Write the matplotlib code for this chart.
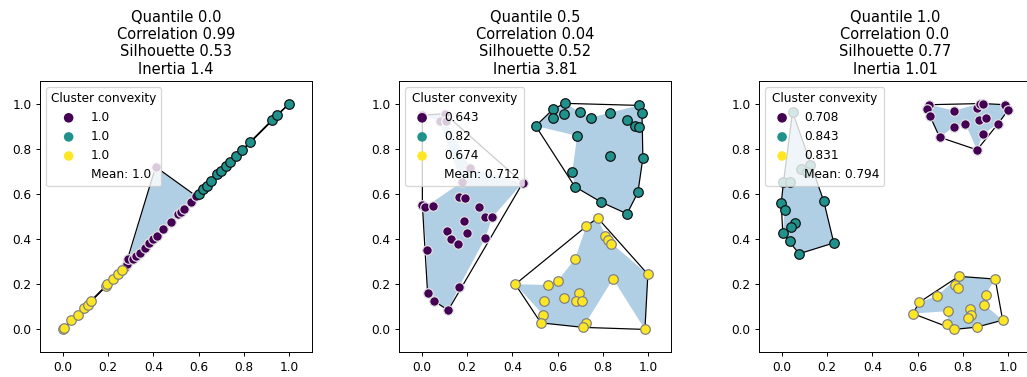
#!/usr/bin/env python3
"""
tres cuantiles: puntos por cluster, envolvente convexa y relleno concavo
"""

import numpy as np
import matplotlib.pyplot as plt

# metricas por panel
quantiles   = [0.0, 0.5, 1.0]
correlation = [0.99, 0.04, 0.0]
silhouette  = [0.53, 0.52, 0.77]
inertia     = [1.4, 3.81, 1.01]
convexity   = [[1.0, 1.0, 1.0], [0.643, 0.82, 0.674], [0.708, 0.843, 0.831]]
mean_conv   = [1.0, 0.712, 0.794]

# panel 1 (cuantil 0.0)
p1_c0 = [(0.276, 0.278), (0.284, 0.291), (0.29, 0.31), (0.31, 0.31), (0.325, 0.326),
         (0.34, 0.338), (0.362, 0.362), (0.38, 0.381), (0.398, 0.399), (0.414, 0.412),
         (0.443, 0.443), (0.476, 0.475), (0.508, 0.512), (0.522, 0.522), (0.535, 0.535),
         (0.564, 0.563), (0.59, 0.59), (0.41, 0.72)]
p1_c1 = [(0.6, 0.6), (0.618, 0.62), (0.635, 0.637), (0.656, 0.659), (0.683, 0.686),
         (0.7, 0.702), (0.72, 0.722), (0.74, 0.742), (0.763, 0.766), (0.793, 0.796),
         (0.826, 0.828), (0.924, 0.928), (0.944, 0.948), (1.0, 1.0)]
p1_c2 = [(0.0, 0.0), (0.008, 0.007), (0.038, 0.04), (0.066, 0.066), (0.094, 0.094),
         (0.111, 0.11), (0.127, 0.128), (0.19, 0.191), (0.197, 0.199), (0.22, 0.222),
         (0.243, 0.244), (0.262, 0.262)]
p1_f0 = [(0.29, 0.31), (0.41, 0.72), (0.59, 0.59), (0.564, 0.563), (0.476, 0.475),
         (0.414, 0.412), (0.34, 0.338), (0.31, 0.31)]
p1_f1 = [(0.6, 0.6), (1.0, 1.0)]
p1_f2 = [(0.0, 0.0), (0.262, 0.262)]

# panel 2 (cuantil 0.5)
p2_c0 = [(0.003, 0.949), (0.102, 0.955), (0.079, 0.922), (0.106, 0.924), (0.214, 0.715),
         (0.446, 0.649), (0.176, 0.652), (0.003, 0.553), (0.015, 0.541), (0.051, 0.548),
         (0.164, 0.585), (0.193, 0.582), (0.253, 0.541), (0.281, 0.497), (0.312, 0.497),
         (0.186, 0.479), (0.11, 0.438), (0.2, 0.426), (0.129, 0.399), (0.161, 0.379),
         (0.281, 0.406), (0.022, 0.35), (0.165, 0.188), (0.026, 0.163), (0.054, 0.126),
         (0.117, 0.085)]
p2_c1 = [(0.503, 0.901), (0.58, 0.975), (0.58, 0.938), (0.631, 1.001), (0.628, 0.955),
         (0.697, 0.964), (0.745, 0.938), (0.833, 0.96), (0.957, 0.992), (0.972, 0.96),
         (0.905, 0.926), (0.943, 0.901), (0.957, 0.897), (0.686, 0.857), (0.83, 0.766),
         (0.976, 0.759), (0.664, 0.695), (0.676, 0.632), (0.954, 0.607), (0.793, 0.563),
         (0.906, 0.512)]
p2_c2 = [(0.776, 0.494), (0.726, 0.456), (0.81, 0.414), (0.82, 0.396), (0.837, 0.379),
         (0.677, 0.313), (0.998, 0.244), (0.844, 0.224), (0.413, 0.2), (0.6, 0.215),
         (0.557, 0.197), (0.696, 0.161), (0.629, 0.138), (0.682, 0.127), (0.709, 0.124),
         (0.541, 0.126), (0.535, 0.066), (0.526, 0.029), (0.724, 0.029), (0.713, 0.009),
         (0.985, 0.0)]
p2_f0 = [(0.003, 0.949), (0.102, 0.955), (0.106, 0.924), (0.214, 0.715), (0.446, 0.649),
         (0.312, 0.497), (0.281, 0.406), (0.165, 0.188), (0.117, 0.085), (0.054, 0.126),
         (0.026, 0.163), (0.022, 0.35), (0.003, 0.553), (0.015, 0.541), (0.176, 0.652),
         (0.079, 0.922)]
p2_f1 = [(0.503, 0.901), (0.58, 0.975), (0.631, 1.001), (0.697, 0.964), (0.745, 0.938),
         (0.833, 0.96), (0.957, 0.992), (0.972, 0.96), (0.976, 0.759), (0.954, 0.607),
         (0.906, 0.512), (0.793, 0.563), (0.676, 0.632), (0.664, 0.695), (0.686, 0.857)]
p2_f2 = [(0.413, 0.2), (0.557, 0.197), (0.6, 0.215), (0.677, 0.313), (0.726, 0.456),
         (0.776, 0.494), (0.82, 0.396), (0.998, 0.244), (0.985, 0.0), (0.844, 0.224),
         (0.724, 0.029), (0.713, 0.009), (0.526, 0.029), (0.535, 0.066)]

# panel 3 (cuantil 1.0)
p3_c0 = [(0.651, 0.995), (0.642, 0.975), (0.655, 0.943), (0.76, 0.969), (0.862, 0.982),
         (0.874, 1.0), (0.89, 1.0), (0.987, 0.995), (0.999, 0.971), (0.869, 0.929),
         (0.902, 0.934), (0.811, 0.91), (0.76, 0.897), (0.955, 0.911), (0.888, 0.865),
         (0.697, 0.851), (0.862, 0.795)]
p3_c1 = [(0.048, 0.963), (0.084, 0.712), (0.124, 0.73), (0.113, 0.695), (0.008, 0.651),
         (0.038, 0.651), (0.186, 0.567), (-0.002, 0.56), (0.013, 0.529), (0.06, 0.472),
         (0.042, 0.453), (0.005, 0.425), (0.035, 0.393), (0.23, 0.383), (0.077, 0.335)]
p3_c2 = [(0.781, 0.235), (0.942, 0.223), (0.765, 0.197), (0.78, 0.183), (0.686, 0.148),
         (0.607, 0.12), (0.9, 0.154), (0.894, 0.11), (0.83, 0.09), (0.736, 0.081),
         (0.836, 0.063), (0.822, 0.05), (0.579, 0.07), (0.975, 0.041), (0.73, 0.022),
         (0.86, 0.01), (0.761, 0.0)]
p3_f0 = [(0.651, 0.995), (0.76, 0.969), (0.874, 1.0), (0.987, 0.995), (0.999, 0.971),
         (0.955, 0.911), (0.888, 0.865), (0.862, 0.795), (0.811, 0.91), (0.76, 0.897),
         (0.697, 0.851), (0.655, 0.943), (0.642, 0.975)]
p3_f1 = [(0.048, 0.963), (0.124, 0.73), (0.186, 0.567), (0.23, 0.383), (0.077, 0.335),
         (0.035, 0.393), (0.005, 0.425), (0.013, 0.529), (-0.002, 0.56), (0.008, 0.651)]
p3_f2 = [(0.579, 0.07), (0.607, 0.12), (0.686, 0.148), (0.781, 0.235), (0.942, 0.223),
         (0.9, 0.154), (0.894, 0.11), (0.975, 0.041), (0.86, 0.01), (0.761, 0.0),
         (0.73, 0.022), (0.736, 0.081)]

paneles = [
    ([p1_c0, p1_c1, p1_c2], [p1_f0, p1_f1, p1_f2]),
    ([p2_c0, p2_c1, p2_c2], [p2_f0, p2_f1, p2_f2]),
    ([p3_c0, p3_c1, p3_c2], [p3_f0, p3_f1, p3_f2]),
]

colores = [plt.cm.viridis(0.0), plt.cm.viridis(0.5), plt.cm.viridis(1.0)]
bordes  = ['#e2e2e2', '#111111', 'gray']


def envolvente(pts):
    # monotone chain
    pts = sorted(set(pts))
    def cruz(o, a, b):
        return (a[0]-o[0])*(b[1]-o[1]) - (a[1]-o[1])*(b[0]-o[0])
    low, up = [], []
    for p in pts:
        while len(low) >= 2 and cruz(low[-2], low[-1], p) <= 0:
            low.pop()
        low.append(p)
    for p in reversed(pts):
        while len(up) >= 2 and cruz(up[-2], up[-1], p) <= 0:
            up.pop()
        up.append(p)
    return low[:-1] + up[:-1]


dpi = 87.5
fig = plt.figure(figsize=(1027/dpi, 377/dpi), dpi=dpi)
lefts = [40, 399, 759]

for k, (clusters, rellenos) in enumerate(paneles):
    ax = fig.add_axes([lefts[k]/1027, 25/377, 272/1027, 271/377])
    for c, (pts, poly) in enumerate(zip(clusters, rellenos)):
        pts = np.array(pts)
        poly = np.array(poly)
        ax.fill(poly[:, 0], poly[:, 1], color='tab:blue', alpha=0.35, lw=0, zorder=1)
        h = np.array(envolvente([tuple(p) for p in pts]))
        h = np.vstack([h, h[:1]])
        ax.plot(h[:, 0], h[:, 1], color='black', lw=1, zorder=2)
        ax.scatter(pts[:, 0], pts[:, 1], s=62, color=colores[c], edgecolors=bordes[c],
                   linewidths=1, zorder=3)
    handles = [ax.scatter([], [], s=62, color=colores[c], edgecolors='none') for c in range(3)]
    handles.append(plt.Line2D([], [], linestyle='none'))
    labels = [str(v) for v in convexity[k]] + [f'Mean: {mean_conv[k]}']
    ax.legend(handles, labels, title='Cluster convexity', loc='upper left')
    ax.set_xlim(-0.1, 1.1)
    ax.set_ylim(-0.1, 1.1)
    ax.set_xticks([0.0, 0.2, 0.4, 0.6, 0.8, 1.0])
    ax.set_yticks([0.0, 0.2, 0.4, 0.6, 0.8, 1.0])
    ax.set_title(f'Quantile {quantiles[k]}\nCorrelation {correlation[k]}\n'
                 f'Silhouette {silhouette[k]}\nInertia {inertia[k]}')

fig.savefig('out.png', dpi=dpi)
